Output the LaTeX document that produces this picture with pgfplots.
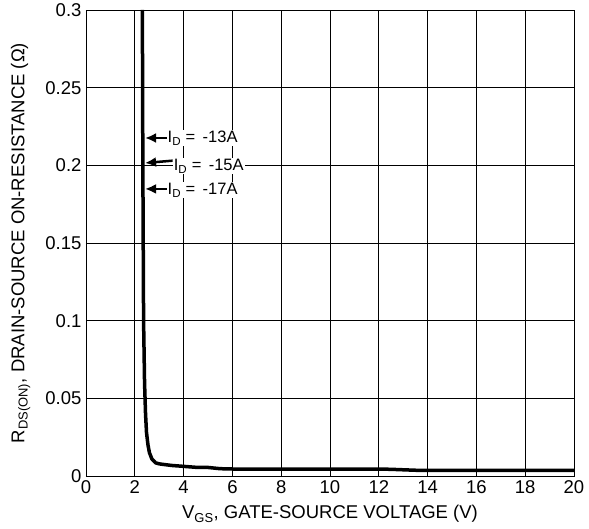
\documentclass[border=0pt]{standalone}
\usepackage{fontspec}
\setmainfont{Liberation Sans}
\usepackage{pgfplots}
\pgfplotsset{compat=1.18}
\usetikzlibrary{arrows.meta}
\begin{document}
\begin{tikzpicture}
\begin{axis}[
  name=ax,
  scale only axis,
  width=488pt, height=466pt,
  xmin=0, xmax=20, ymin=0, ymax=0.3,
  xtick={0,2,...,20},
  ytick={0,0.05,0.1,0.15,0.2,0.25,0.3},
  yticklabels={0,0.05,0.1,0.15,0.2,0.25,0.3},
  grid=major,
  major grid style={black, line width=0.7pt},
  axis line style={black, line width=0.8pt},
  tick style={draw=none},
  /pgf/number format/assume math mode=true,
  ticklabel style={font=\fontsize{18.5}{20}\selectfont},
  xticklabel style={yshift=-1pt},
  yticklabel style={xshift=-1pt},
  xlabel={V\textsubscript{GS}, GATE-SOURCE VOLTAGE (V)},
  ylabel={R\textsubscript{DS(ON)}, DRAIN-SOURCE ON-RESISTANCE (Ω)},
  xlabel style={at={(axis description cs:0.5,0)}, anchor=base, yshift=-43pt, font=\fontsize{18.5}{20}\selectfont},
  ylabel style={at={(axis description cs:-0.134,0.5)}, anchor=center, font=\fontsize{18.5}{20}\selectfont},
  clip=true,
]
\addplot[black, line width=3.5pt] coordinates {
(2.31,0.30) (2.32,0.25) (2.33,0.20) (2.345,0.15) (2.36,0.10) (2.40,0.06)
(2.44,0.040) (2.48,0.028) (2.54,0.020) (2.60,0.015) (2.70,0.011) (2.85,0.0085)
(3.0,0.0078) (3.5,0.0068) (4,0.0062) (4.5,0.0056) (5,0.0055) (5.5,0.0047)
(6,0.0045) (8,0.0045) (10,0.0045) (12,0.0045) (12.5,0.0043) (13.5,0.0037)
(14,0.0036) (20,0.0036)};
\draw[black, line width=2.5pt, -{Latex[length=11pt,width=10pt]}] (axis cs:3.30,0.2176) -- (axis cs:2.42,0.2176);
\draw[black, line width=2.5pt, -{Latex[length=11pt,width=10pt]}] (axis cs:3.55,0.2030) -- (axis cs:2.42,0.2015);
\draw[black, line width=2.5pt, -{Latex[length=11pt,width=10pt]}] (axis cs:3.30,0.1848) -- (axis cs:2.42,0.1848);
\node[anchor=west, fill=white, inner sep=1pt, font=\fontsize{16.5}{18}\selectfont] at (axis cs:3.30,0.2176) {I\textsubscript{D} = \,-13A};
\node[anchor=west, fill=white, inner sep=1pt, font=\fontsize{16.5}{18}\selectfont] at (axis cs:3.55,0.1995) {I\textsubscript{D} = \,-15A};
\node[anchor=west, fill=white, inner sep=1pt, font=\fontsize{16.5}{18}\selectfont] at (axis cs:3.30,0.1840) {I\textsubscript{D} = \,-17A};
\end{axis}
\path (ax.south west) ++(-86pt,-53pt) coordinate (bl);
\path (ax.north east) ++(15pt,10pt) coordinate (tr);
\path (bl) (tr);
\end{tikzpicture}
\end{document}
